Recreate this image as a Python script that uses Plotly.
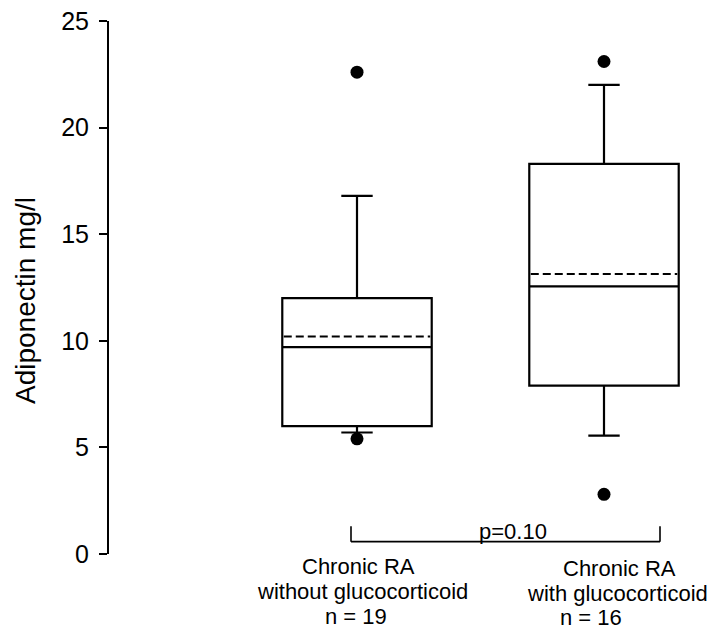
import plotly.graph_objects as go

# ---- data ----
GROUP_LINE1 = ["Chronic RA", "Chronic RA"]
GROUP_LINE2 = ["without glucocorticoid", "with glucocorticoid"]
N_PATIENTS = [19, 16]
Q1 = [6.0, 7.9]
MEDIAN = [9.7, 12.55]
Q3 = [12.0, 18.3]
LOWER_WHISKER = [5.7, 5.55]
UPPER_WHISKER = [16.8, 22.0]
MEAN = [10.2, 13.13]
OUTLIER_GROUP = [0, 0, 1, 1]
OUTLIER_VALUE = [22.6, 5.4, 23.1, 2.8]
P_TEXT = "p=0.10"
Y_TICKS = [0, 5, 10, 15, 20, 25]

# ---- geometry (page pixels; the page body adds an 8px offset) ----
OFF = 8
W, H = 717, 622
L, T, B, R = 109 - OFF, 21 - OFF, 76, 5
PW = W - L - R
PH = H - T - B
POS = [0, 1]
BOX_W = 0.605
PX_PER_UNIT = 247.0
X0 = (L - (357 - OFF)) / PX_PER_UNIT
X1 = X0 + PW / PX_PER_UNIT


def px2x(px):
    return X0 + (px - OFF - L) / PX_PER_UNIT


def py2paper(py):
    return (H - B - (py - OFF)) / PH


def px2paper(px):
    return (px - OFF - L) / PW


FONT = "Liberation Sans, Arial, Helvetica, sans-serif"

fig = go.Figure()

fig.add_trace(go.Box(
    x=POS, q1=Q1, median=MEDIAN, q3=Q3,
    lowerfence=LOWER_WHISKER, upperfence=UPPER_WHISKER,
    boxpoints=False, width=BOX_W, whiskerwidth=0.21,
    line=dict(color="black", width=2.2), fillcolor="rgba(0,0,0,0)",
    showlegend=False, hoverinfo="skip",
))

# dashed mean lines across each box
mx, my = [], []
for p, m in zip(POS, MEAN):
    mx += [p - BOX_W / 2 + 0.006, p + BOX_W / 2 - 0.006, None]
    my += [m, m, None]
fig.add_trace(go.Scatter(
    x=mx, y=my, mode="lines", line=dict(color="black", width=2, dash="8px,4px"),
    showlegend=False, hoverinfo="skip",
))

fig.add_trace(go.Scatter(
    x=[POS[g] for g in OUTLIER_GROUP], y=OUTLIER_VALUE, mode="markers",
    marker=dict(color="black", size=13), showlegend=False, cliponaxis=False,
))

shapes = []
# p-value bracket
bx0, bx1 = px2x(351), px2x(660)
by0, by1 = 0.58, 1.3
shapes.append(dict(type="line", xref="x", yref="y", x0=bx0, x1=bx1, y0=by0, y1=by0,
                   line=dict(color="black", width=1.6)))
for bx in (bx0, bx1):
    shapes.append(dict(type="line", xref="x", yref="y", x0=bx, x1=bx, y0=by0, y1=by1,
                       line=dict(color="black", width=1.6)))

annotations = []
annotations.append(dict(text=P_TEXT, xref="x", yref="paper", x=px2x(513),
                        y=py2paper(539 - 0.35 * 22),
                        showarrow=False, xanchor="center", yanchor="middle",
                        font=dict(family=FONT, size=22, color="black")))

label_centers = [[358.5, 362, 356], [619, 617, 591]]
label_baselines = [[574, 599, 624], [576, 601, 625]]
FS = 22
for g in range(2):
    lines = [GROUP_LINE1[g], GROUP_LINE2[g], f"n = {N_PATIENTS[g]}"]
    for k, txt in enumerate(lines):
        annotations.append(dict(
            text=txt, xref="x", yref="paper",
            x=px2x(label_centers[g][k]), y=py2paper(label_baselines[g][k] - 0.35 * FS),
            showarrow=False, xanchor="center", yanchor="middle",
            font=dict(family=FONT, size=FS, color="black")))

annotations.append(dict(text="Adiponectin mg/l", xref="paper", yref="paper",
                        x=px2paper(26), y=py2paper(301), textangle=-90,
                        showarrow=False, xanchor="center", yanchor="middle",
                        font=dict(family=FONT, size=28, color="black")))

fig.update_layout(
    width=W, height=H,
    margin=dict(l=L, r=R, t=T, b=B, pad=0, autoexpand=False),
    paper_bgcolor="white", plot_bgcolor="white",
    shapes=shapes, annotations=annotations,
    xaxis=dict(range=[X0, X1], visible=False, showgrid=False, zeroline=False,
               automargin=False),
    yaxis=dict(range=[0, 25], tickvals=Y_TICKS, ticktext=[str(v) for v in Y_TICKS],
               showline=True, linecolor="black", linewidth=2,
               ticks="outside", ticklen=8, tickwidth=2, tickcolor="black",
               showgrid=False, zeroline=False, ticklabeloverflow="allow",
               ticklabelstandoff=5, automargin=False,
               tickfont=dict(family=FONT, size=25, color="black")),
)

fig.write_html("out.html")
